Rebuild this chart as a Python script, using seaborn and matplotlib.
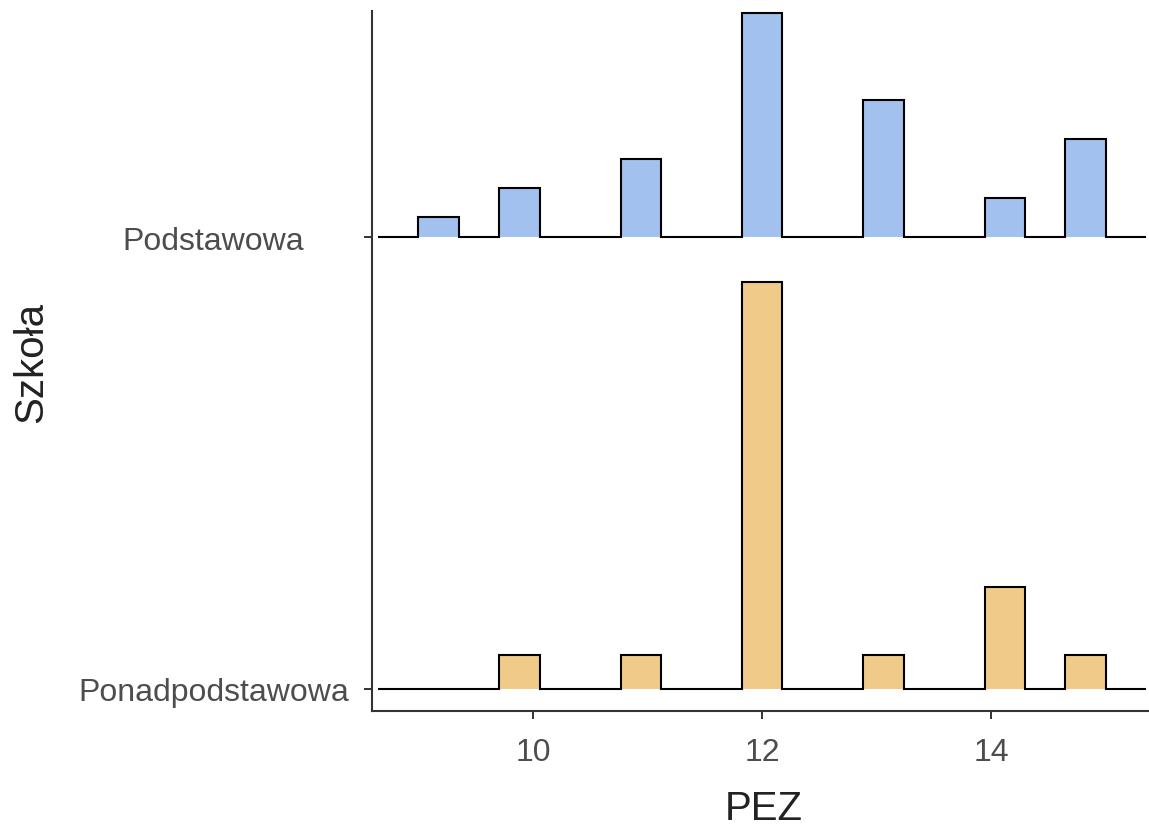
import numpy as np
import matplotlib
matplotlib.use("Agg")
import matplotlib.pyplot as plt
import seaborn as sns

# PEZ score values and the number of pupils at each score, per school type
pez_values = [9, 10, 11, 12, 13, 14, 15]
podstawowa_counts = [2, 5, 8, 23, 14, 4, 10]
ponad_counts = [0, 1, 1, 12, 1, 3, 1]

school_labels = ["Ponadpodstawowa", "Podstawowa"]
fill_colors = ["#f0ca89", "#a3c1ef"]
x_ticks = [10, 12, 14]

sns.set_theme(style="ticks")
plt.rcParams["font.family"] = ["Liberation Sans", "DejaVu Sans"]

# 17 bins over the data range, then one empty bin added on each side
lo, hi = min(pez_values), max(pez_values)
n_bins = 17
bw = (hi - lo) / n_bins
inner_edges = np.linspace(lo, hi, n_bins + 1)
edges = np.concatenate([[lo - bw], inner_edges, [hi + bw]])
ridge_scale = 1.425

W, H = 1149, 828
fig = plt.figure(figsize=(W / 100, H / 100), dpi=100)
ax = fig.add_axes([372 / W, 116 / H, 777 / W, 700 / H])

for offset, (counts, color) in enumerate(zip([ponad_counts, podstawowa_counts], fill_colors)):
    hist, _ = np.histogram(pez_values, bins=inner_edges, weights=counts)
    hist = np.concatenate([[0], hist, [0]])
    heights = offset + hist / hist.sum() * ridge_scale
    ax.stairs(heights, edges, baseline=offset, fill=True, color=color, lw=0, zorder=2)
    ax.stairs(heights, edges, baseline=offset, fill=False, color="black", lw=1.5, zorder=3)

ax.set_xlim(8.5948, 15.376)
ax.set_ylim(-22 / 452, 1.5)

ax.set_xticks(x_ticks)
ax.set_xticklabels([str(t) for t in x_ticks])
ax.set_yticks([0, 1])
ax.set_yticklabels(school_labels)
for lab in ax.get_yticklabels():
    lab.set_horizontalalignment("center")

ax.tick_params(axis="x", length=6, width=1.4, color="#333333", pad=13,
               labelsize=23, labelcolor="#4d4d4d")
ax.tick_params(axis="y", length=6, width=1.4, color="#333333", pad=108,
               labelsize=23, labelcolor="#4d4d4d")

for side in ["top", "right"]:
    ax.spines[side].set_visible(False)
for side in ["left", "bottom"]:
    ax.spines[side].set_linewidth(1.5)
    ax.spines[side].set_color("#333333")

ax.set_xlabel("")
ax.set_ylabel("")
fig.text(764 / W, 1 - 820 / H, "PEZ", ha="center", va="baseline",
         fontsize=29, color="#222222")
fig.text(31 / W, 1 - 362 / H, "Szkoła", ha="center", va="center",
         rotation=90, fontsize=29, color="#222222")

fig.savefig("out.png", dpi=100)
